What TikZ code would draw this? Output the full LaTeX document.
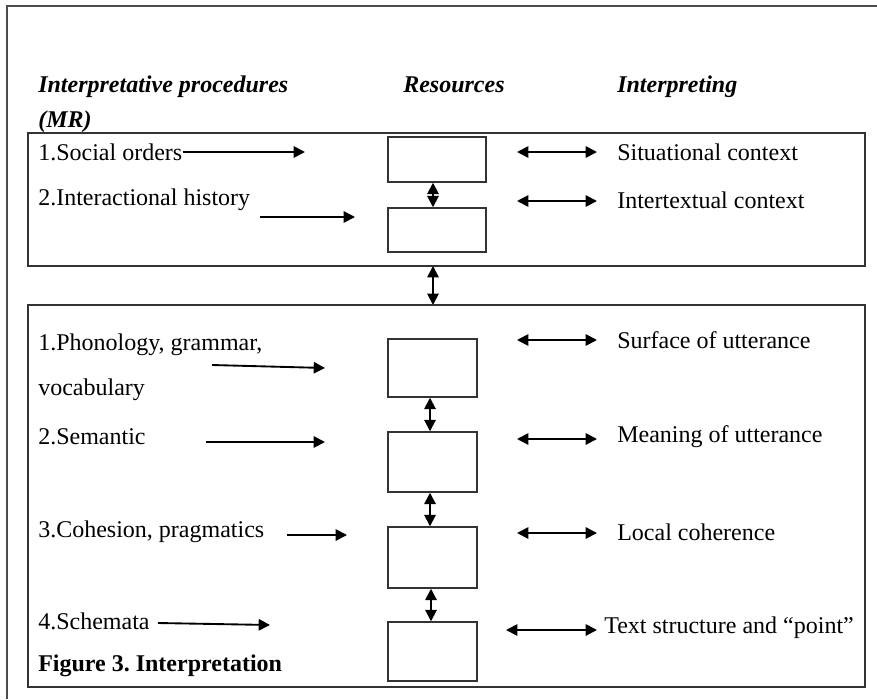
\documentclass[tikz,border=0pt]{standalone}
\usepackage{fontspec}
\setmainfont{Liberation Serif}
\usetikzlibrary{arrows.meta}

\tikzset{
  res/.style={draw=black!80, line width=1.1pt, minimum width=98*0.75pt, inner sep=0pt},
  lbl/.style={anchor=west, inner sep=0pt, font=\fontsize{18}{21}\selectfont},
  head/.style={anchor=base west, inner sep=0pt, font=\fontsize{18}{21}\selectfont\bfseries\itshape},
  arr/.style={-{Triangle[length=8.5pt,width=8.5pt]}, line width=1.4pt},
  darr/.style={{Triangle[length=8.5pt,width=8.5pt]}-{Triangle[length=8.5pt,width=8.5pt]}, line width=1.4pt}
}

\begin{document}
\frenchspacing
\begin{tikzpicture}[x=0.75pt,y=-0.75pt]
    \useasboundingbox (0,0) rectangle (877,699);

    % outer frame
    \draw[black!70, line width=1.2pt] (7,699) -- (7,6) -- (877,6);

    % headings
    \node[head] (hproc) at (38,92) {Interpretative procedures};
    \node[head] (hres) at (403,92) {Resources};
    \node[head] (hint) at (617,92) {Interpreting};
    \node[head] (hmr) at (38,127) {(MR)};

    % upper part
    \draw[black!80, line width=1.1pt] (28,133) rectangle (865,266);
    \node[res, minimum height=45*0.75pt] (a1) at (437,159.5) {};
    \node[res, minimum height=44*0.75pt] (a2) at (437,230) {};
    \draw[darr] (a1.south -| 433,0) -- (a2.north -| 433,0);

    \node[lbl] (social) at (38,152) {1.Social orders};
    \node[lbl] (hist) at (38,200) {2.Interactional history};
    \coordinate (s1) at (305,152);
    \coordinate (s2a) at (260,217);
    \coordinate (s2) at (355,217);
    \draw[arr] (social.east) -- (s1);
    \draw[arr] (s2a) -- (s2);

    \coordinate (l1) at (517,152); \coordinate (r1) at (597,152);
    \coordinate (l2) at (517,201); \coordinate (r2) at (597,201);
    \draw[darr] (l1) -- (r1);
    \draw[darr] (l2) -- (r2);
    \node[lbl] (sit) at (617,152) {Situational context};
    \node[lbl] (inter) at (617,200) {Intertextual context};

    % link between the two parts
    \coordinate (top) at (433,266);
    \coordinate (bot) at (433,305);
    \draw[darr] (top) -- (bot);

    % lower part
    \draw[black!80, line width=1.1pt] (28,305) rectangle (865,687);
    \node[res, minimum width=89*0.75pt, minimum height=58*0.75pt] (b1) at (432.5,368) {};
    \node[res, minimum width=89*0.75pt, minimum height=60*0.75pt] (b2) at (432.5,462) {};
    \node[res, minimum width=89*0.75pt, minimum height=61*0.75pt] (b3) at (432.5,557.5) {};
    \node[res, minimum width=89*0.75pt, minimum height=59*0.75pt] (b4) at (432.5,651.5) {};
    \draw[darr] (b1.south -| 430,0) -- (b2.north -| 430,0);
    \draw[darr] (b2.south -| 430,0) -- (b3.north -| 430,0);
    \draw[darr] (b3.south -| 431,0) -- (b4.north -| 431,0);

    \node[lbl] (phon) at (38,345) {1.Phonology, grammar,};
    \node[lbl] (voc) at (38,390) {vocabulary};
    \node[lbl] (sem) at (38,437) {2.Semantic};
    \node[lbl] (coh) at (38,532) {3.Cohesion, pragmatics};
    \node[lbl] (schem) at (38,621) {4.Schemata};

    \coordinate (p0) at (212,365); \coordinate (p1) at (325,368);
    \coordinate (m0) at (206,442); \coordinate (m1) at (325,442);
    \coordinate (c0) at (287,535); \coordinate (c1) at (347,535);
    \coordinate (t0) at (158,623); \coordinate (t1) at (270,625);
    \draw[arr] (p0) -- (p1);
    \draw[arr] (m0) -- (m1);
    \draw[arr] (c0) -- (c1);
    \draw[arr] (t0) -- (t1);

    \coordinate (q1) at (517,340); \coordinate (w1) at (597,340);
    \coordinate (q2) at (517,439); \coordinate (w2) at (597,439);
    \coordinate (q3) at (517,533); \coordinate (w3) at (597,533);
    \coordinate (q4) at (506,630); \coordinate (w4) at (597,630);
    \draw[darr] (q1) -- (w1);
    \draw[darr] (q2) -- (w2);
    \draw[darr] (q3) -- (w3);
    \draw[darr] (q4) -- (w4);
    \node[lbl] (surf) at (617,340) {Surface of utterance};
    \node[lbl] (mean) at (617,437) {Meaning of utterance};
    \node[lbl] (loc) at (617,532) {Local coherence};
    \node[lbl] (text) at (604,628) {Text structure and “point”};

    \node[lbl, font=\fontsize{18}{21}\selectfont\bfseries] (fig) at (38,666) {Figure 3. Interpretation};
\end{tikzpicture}
\end{document}
